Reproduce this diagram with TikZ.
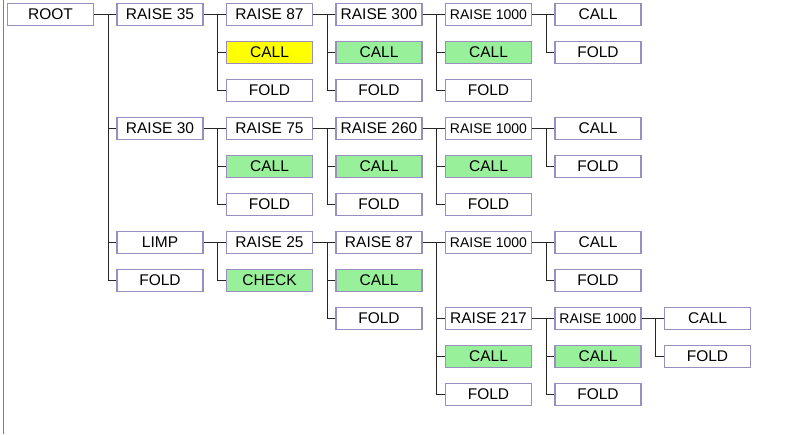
\documentclass[tikz,border=0pt]{standalone}
\usepackage{fontspec}
\setmainfont{Liberation Sans}
\definecolor{bordc}{HTML}{9A8DC0}
\definecolor{greenf}{HTML}{98F09A}
\definecolor{yellowf}{HTML}{FFFF00}
\begin{document}
\begin{tikzpicture}[x=1pt,y=-1pt,
  box/.style={draw=bordc,line width=1.2pt,fill=white,minimum width=86pt,minimum height=22pt,inner sep=0pt,font=\fontsize{15.5}{16}\selectfont},
  small/.style={font=\fontsize{14}{15}\selectfont},
  gr/.style={fill=greenf},
  yl/.style={fill=yellowf},
  conn/.style={draw=black!85,line width=0.9pt}]
\useasboundingbox (0,0) rectangle (798,434);
\fill[white] (0,0) rectangle (798,434);
\draw[gray,line width=1.8pt] (3.5,0) -- (3.5,434);
\def\cx#1{50.5+109.5*#1}
\def\ry#1{14.5+38*#1}
% column 0/1
\node[box] (root) at ({\cx{0}},{\ry{0}}) {ROOT};
\node[box] (a) at ({\cx{1}},{\ry{0}}) {RAISE 35};
\node[box] (b) at ({\cx{1}},{\ry{3}}) {RAISE 30};
\node[box] (c) at ({\cx{1}},{\ry{6}}) {LIMP};
\node[box] (d) at ({\cx{1}},{\ry{7}}) {FOLD};
% branch a
\node[box] (a1) at ({\cx{2}},{\ry{0}}) {RAISE 87};
\node[box,yl] (a2) at ({\cx{2}},{\ry{1}}) {CALL};
\node[box] (a3) at ({\cx{2}},{\ry{2}}) {FOLD};
\node[box] (a11) at ({\cx{3}},{\ry{0}}) {RAISE 300};
\node[box,gr] (a12) at ({\cx{3}},{\ry{1}}) {CALL};
\node[box] (a13) at ({\cx{3}},{\ry{2}}) {FOLD};
\node[box,small] (a111) at ({\cx{4}},{\ry{0}}) {RAISE 1000};
\node[box,gr] (a112) at ({\cx{4}},{\ry{1}}) {CALL};
\node[box] (a113) at ({\cx{4}},{\ry{2}}) {FOLD};
\node[box] (a1111) at ({\cx{5}},{\ry{0}}) {CALL};
\node[box] (a1112) at ({\cx{5}},{\ry{1}}) {FOLD};
% branch b
\node[box] (b1) at ({\cx{2}},{\ry{3}}) {RAISE 75};
\node[box,gr] (b2) at ({\cx{2}},{\ry{4}}) {CALL};
\node[box] (b3) at ({\cx{2}},{\ry{5}}) {FOLD};
\node[box] (b11) at ({\cx{3}},{\ry{3}}) {RAISE 260};
\node[box,gr] (b12) at ({\cx{3}},{\ry{4}}) {CALL};
\node[box] (b13) at ({\cx{3}},{\ry{5}}) {FOLD};
\node[box,small] (b111) at ({\cx{4}},{\ry{3}}) {RAISE 1000};
\node[box,gr] (b112) at ({\cx{4}},{\ry{4}}) {CALL};
\node[box] (b113) at ({\cx{4}},{\ry{5}}) {FOLD};
\node[box] (b1111) at ({\cx{5}},{\ry{3}}) {CALL};
\node[box] (b1112) at ({\cx{5}},{\ry{4}}) {FOLD};
% branch c
\node[box] (c1) at ({\cx{2}},{\ry{6}}) {RAISE 25};
\node[box,gr] (c2) at ({\cx{2}},{\ry{7}}) {CHECK};
\node[box] (c11) at ({\cx{3}},{\ry{6}}) {RAISE 87};
\node[box,gr] (c12) at ({\cx{3}},{\ry{7}}) {CALL};
\node[box] (c13) at ({\cx{3}},{\ry{8}}) {FOLD};
\node[box,small] (c111) at ({\cx{4}},{\ry{6}}) {RAISE 1000};
\node[box] (c112) at ({\cx{4}},{\ry{8}}) {RAISE 217};
\node[box,gr] (c113) at ({\cx{4}},{\ry{9}}) {CALL};
\node[box] (c114) at ({\cx{4}},{\ry{10}}) {FOLD};
\node[box] (c1111) at ({\cx{5}},{\ry{6}}) {CALL};
\node[box] (c1112) at ({\cx{5}},{\ry{7}}) {FOLD};
\node[box,small] (c1121) at ({\cx{5}},{\ry{8}}) {RAISE 1000};
\node[box,gr] (c1122) at ({\cx{5}},{\ry{9}}) {CALL};
\node[box] (c1123) at ({\cx{5}},{\ry{10}}) {FOLD};
\node[box] (c11211) at ({\cx{6}},{\ry{8}}) {CALL};
\node[box] (c11212) at ({\cx{6}},{\ry{9}}) {FOLD};
% connectors
\def\fan#1#2{\draw[conn] (#1.east) -- (#2.west);}
\def\br#1#2{\draw[conn] ([xshift=-8pt]#1.west) |- (#2.west);}
\fan{root}{a} \br{a}{b} \br{a}{c} \br{a}{d}
\fan{a}{a1} \br{a1}{a2} \br{a1}{a3}
\fan{a1}{a11} \br{a11}{a12} \br{a11}{a13}
\fan{a11}{a111} \br{a111}{a112} \br{a111}{a113}
\fan{a111}{a1111} \br{a1111}{a1112}
\fan{b}{b1} \br{b1}{b2} \br{b1}{b3}
\fan{b1}{b11} \br{b11}{b12} \br{b11}{b13}
\fan{b11}{b111} \br{b111}{b112} \br{b111}{b113}
\fan{b111}{b1111} \br{b1111}{b1112}
\fan{c}{c1} \br{c1}{c2}
\fan{c1}{c11} \br{c11}{c12} \br{c11}{c13}
\fan{c11}{c111} \br{c111}{c112} \br{c111}{c113} \br{c111}{c114}
\fan{c111}{c1111} \br{c1111}{c1112}
\fan{c112}{c1121} \br{c1121}{c1122} \br{c1121}{c1123}
\fan{c1121}{c11211} \br{c11211}{c11212}
\end{tikzpicture}
\end{document}
